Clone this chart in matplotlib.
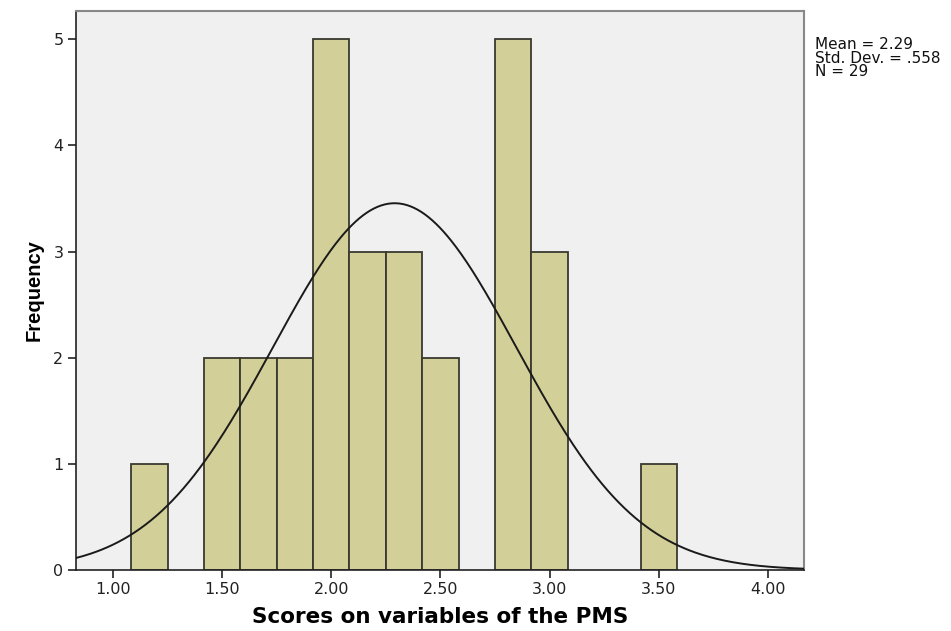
import numpy as np
import matplotlib
matplotlib.use("Agg")
import matplotlib.pyplot as plt

# histogram bins (SPSS style, width 1/6) and counts
bin_start = 1.0833
bin_width = 1.0 / 6
counts = [1, 0, 2, 2, 2, 5, 3, 3, 2, 0, 5, 3, 0, 0, 1]

mean = 2.29
std = 0.558
n = 29

xticks = [1.0, 1.5, 2.0, 2.5, 3.0, 3.5, 4.0]
xtick_labels = ["1.00", "1.50", "2.00", "2.50", "3.00", "3.50", "4.00"]
yticks = [0, 1, 2, 3, 4, 5]

plt.rcParams['font.family'] = ['DejaVu Sans']

fig = plt.figure(figsize=(9.51, 6.31), dpi=100)
ax = fig.add_axes([0.0799, 0.0967, 0.7655, 0.8859])
ax.set_facecolor("#f0f0f0")

lefts = bin_start + bin_width * np.arange(len(counts))
for left, c in zip(lefts, counts):
    if c > 0:
        ax.bar(left, c, width=bin_width, align="edge", color="#d3cf98",
               edgecolor="#3a3a30", linewidth=1.3, zorder=2)

# normal curve scaled to the histogram
xs = np.linspace(0.83, 4.17, 400)
pdf = np.exp(-0.5 * ((xs - mean) / std) ** 2) / (std * np.sqrt(2 * np.pi))
ax.plot(xs, pdf * n * bin_width, color="#1a1a1a", linewidth=1.4, zorder=3)

ax.set_xlim(0.8305, 4.165)
ax.set_ylim(0, 5.267)
ax.set_xticks(xticks)
ax.set_xticklabels(xtick_labels)
ax.set_yticks(yticks)
ax.tick_params(axis="both", direction="out", length=6, width=1.2,
               labelsize=11.5, colors="#222222", pad=3)

for side in ["left", "bottom"]:
    ax.spines[side].set_color("#222222")
    ax.spines[side].set_linewidth(1.2)
for side in ["top", "right"]:
    ax.spines[side].set_color("#888888")
    ax.spines[side].set_linewidth(1.5)

ax.set_xlabel("Scores on variables of the PMS", fontsize=15.5, fontweight="bold",
              labelpad=7)
ax.set_ylabel("Frequency", fontsize=14.5, fontweight="bold", labelpad=7,
              family="Liberation Sans")

fig.text(0.857, 0.941, "Mean = 2.29\nStd. Dev. = .558\nN = 29", fontsize=11,
         va="top", ha="left", linespacing=0.88, color="#111111")

fig.savefig("out.png", dpi=100)
